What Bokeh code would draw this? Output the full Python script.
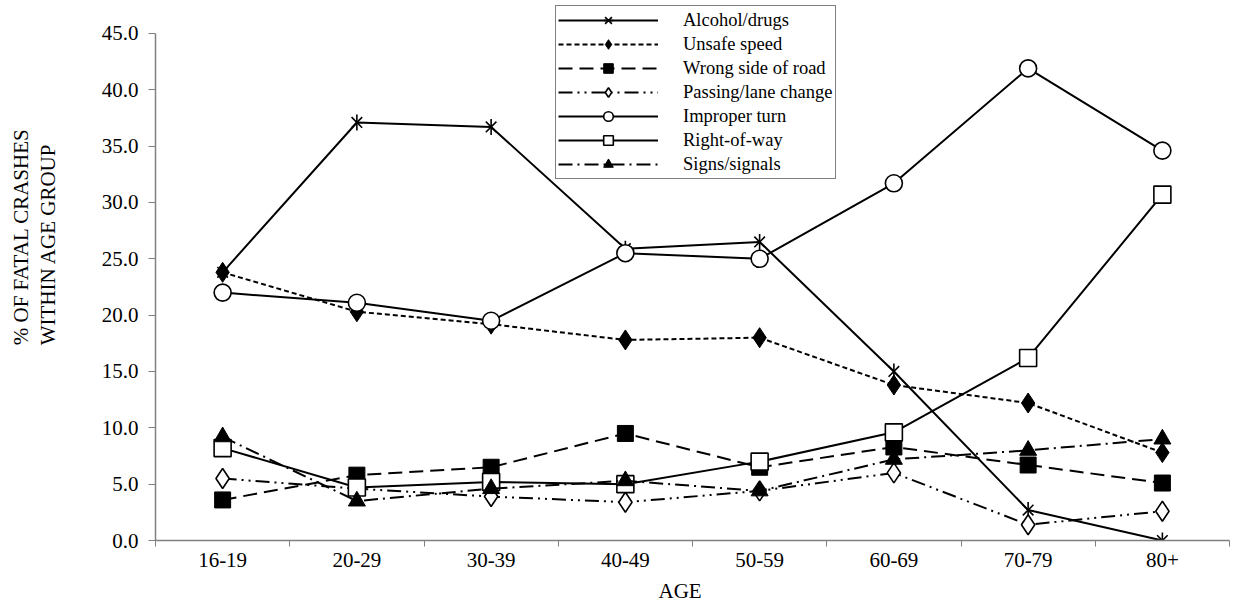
import math
from bokeh.plotting import figure
from bokeh.models import (ColumnDataSource, Range1d, FixedTicker, NumeralTickFormatter,
                          Legend, LegendItem, LinearAxis, Title)
from bokeh.embed import file_html
from bokeh.resources import INLINE

ages = ["16-19", "20-29", "30-39", "40-49", "50-59", "60-69", "70-79", "80+"]
alcohol = [23.8, 37.1, 36.7, 25.9, 26.5, 15.0, 2.7, 0.0]
unsafe = [23.8, 20.3, 19.2, 17.8, 18.0, 13.8, 12.2, 7.8]
wrong_side = [3.6, 5.8, 6.5, 9.5, 6.5, 8.3, 6.7, 5.1]
passing = [5.5, 4.6, 3.9, 3.4, 4.4, 6.0, 1.4, 2.6]
improper = [22.0, 21.1, 19.5, 25.5, 25.0, 31.7, 41.9, 34.6]
right_of_way = [8.2, 4.7, 5.2, 5.0, 7.0, 9.6, 16.2, 30.7]
signs = [9.2, 3.5, 4.6, 5.3, 4.4, 7.2, 8.0, 9.0]
y_ticks = [0, 5, 10, 15, 20, 25, 30, 35, 40, 45]

FONT = "Liberation Serif"
AXIS_GREY = "#808080"
xs = [i + 0.5 for i in range(len(ages))]

p = figure(width=1233, height=608, output_backend="svg", toolbar_location=None,
           x_range=Range1d(0, len(ages)), y_range=Range1d(0, 47.57),
           x_axis_type=None, y_axis_type=None,
           min_border_left=155, min_border_right=4, min_border_top=4, min_border_bottom=68)
p.outline_line_color = None
p.background_fill_color = "white"
p.border_fill_color = "white"


def spacer_axis(gap):
    """An empty axis that only reserves `gap` pixels of room in a side panel."""
    ax = LinearAxis(ticker=FixedTicker(ticks=[]), axis_line_color=None,
                    major_tick_line_color=None, minor_tick_line_color=None,
                    major_tick_in=0, major_tick_out=0, minor_tick_in=0, minor_tick_out=0,
                    major_label_standoff=0)
    ax.axis_label = " "
    ax.axis_label_text_font_size = "1px"
    ax.axis_label_standoff = gap
    return ax


# ---- x axis (ticks between categories) ----
xa = LinearAxis(bounds=(0, len(ages)))
xa.ticker = FixedTicker(ticks=xs, minor_ticks=list(range(len(ages) + 1)))
xa.major_label_overrides = {x: a for x, a in zip(xs, ages)}
xa.major_tick_line_color = None
xa.minor_tick_in = 0
xa.minor_tick_out = 6
xa.minor_tick_line_color = AXIS_GREY
xa.axis_line_color = AXIS_GREY
xa.axis_line_width = 1.5
xa.major_label_text_font = FONT
xa.major_label_text_font_size = "21px"
xa.major_label_text_color = "black"
xa.major_label_standoff = 6
p.add_layout(xa, "below")
p.add_layout(spacer_axis(3), "below")

xtitle = Title(text="AGE", align="left", offset=503, vertical_align="bottom", standoff=0,
               text_font=FONT, text_font_size="21px", text_font_style="normal",
               text_color="black")
p.add_layout(xtitle, "below")

# ---- y axis ----
ya = LinearAxis(bounds=(0, 45))
ya.ticker = FixedTicker(ticks=y_ticks)
ya.formatter = NumeralTickFormatter(format="0.0")
ya.major_tick_in = 0
ya.major_tick_out = 7
ya.minor_tick_line_color = None
ya.major_tick_line_color = AXIS_GREY
ya.axis_line_color = AXIS_GREY
ya.axis_line_width = 1.5
ya.major_label_text_font = FONT
ya.major_label_text_font_size = "21px"
ya.major_label_text_color = "black"
ya.major_label_standoff = 10
p.add_layout(ya, "left")
p.add_layout(spacer_axis(33), "left")

ytitle = Title(text="% OF FATAL CRASHES\nWITHIN AGE GROUP", align="right", offset=124,
               vertical_align="middle", standoff=0, text_font=FONT, text_font_size="21px",
               text_font_style="normal", text_color="black", text_line_height=1.15)
p.add_layout(ytitle, "left")

LW = 2
items = []

def series(label, ys, dash, markers):
    src = ColumnDataSource(dict(x=xs, y=ys))
    rs = [p.line("x", "y", source=src, line_color="black", line_width=LW, line_dash=dash)]
    for m in markers:
        rs.append(p.scatter("x", "y", source=src, **m))
    items.append(LegendItem(label=label, renderers=rs))

series("Alcohol/drugs", alcohol, "solid",
       [dict(marker="x", size=15, line_color="black", line_width=1.6),
        dict(marker="dash", angle=math.pi / 2, size=16, line_color="black", line_width=1.6)])
series("Unsafe speed", unsafe, "5 3",
       [dict(marker="diamond", size=20, fill_color="black", line_color="black")])
series("Wrong side of road", wrong_side, "14 7",
       [dict(marker="square", size=16, fill_color="black", line_color="black")])
series("Passing/lane change", passing, "14 5 2 5 2 5",
       [dict(marker="diamond", size=20, fill_color="white", line_color="black", line_width=1.6)])
series("Improper turn", improper, "solid",
       [dict(marker="circle", size=17, fill_color="white", line_color="black", line_width=1.6)])
series("Right-of-way", right_of_way, "solid",
       [dict(marker="square", size=17, fill_color="white", line_color="black", line_width=1.6)])
series("Signs/signals", signs, "14 5 2 5",
       [dict(marker="triangle", size=17, fill_color="black", line_color="black")])

legend = Legend(items=items, location=(400, 361))
legend.label_text_font = FONT
legend.label_text_font_size = "18.5px"
legend.label_text_color = "black"
legend.border_line_color = "black"
legend.border_line_width = 1.5
legend.background_fill_color = "white"
legend.background_fill_alpha = 1
legend.padding = 2
legend.margin = 0
legend.spacing = 0
legend.glyph_width = 100
legend.glyph_height = 24
legend.label_height = 24
legend.label_standoff = 25
p.add_layout(legend, "center")

open("out.html", "w").write(file_html(p, INLINE))
